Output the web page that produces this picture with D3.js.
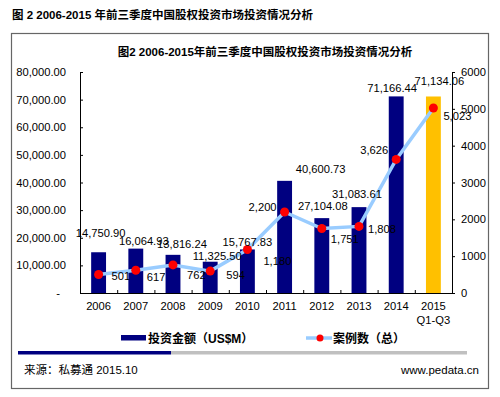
<!DOCTYPE html>
<html>
<head>
<meta charset="utf-8">
<script src="https://cdn.jsdelivr.net/npm/d3@7"></script>
<style>
  body { margin: 0; background: #fff; }
  text { font-family: "Liberation Sans", Arial, "Noto Sans CJK SC", sans-serif; }
  .cjk { font-family: "Liberation Sans", "Noto Sans CJK SC", sans-serif; }
</style>
</head>
<body>
<div id="chart"></div>
<script>
// データ
const years = ["2006", "2007", "2008", "2009", "2010", "2011", "2012", "2013", "2014", "2015"]
const amounts = [14750.90, 16064.93, 13816.24, 11325.50, 15767.83, 40600.73, 27104.08, 31083.61, 71166.44, 71134.06]
const cases = [501, 617, 762, 594, 1180, 2200, 1751, 1808, 3626, 5023]
const leftTicks = [0, 10000, 20000, 30000, 40000, 50000, 60000, 70000, 80000]
const rightTicks = [0, 1000, 2000, 3000, 4000, 5000, 6000]

// ラベルの微調整 (位置のみ)
const barLabelDx = [2, 8, 9, 7, 0, 36, 1, -2, -4, 6]
const barLabelDy = [-19, -8, -11, -6, -7, -12, -12, -13, -8, -15]
const caseLabelDx = [13, 11, 14, 16, 16, -8, 9, 9, -8, 10]
const caseLabelDy = [1, 7, 10, 4, 11, -5, 10, 3, -9, 8]

const width = 500, height = 397

const svg = d3.select('#chart')
  .append('svg')
  .attr('width', width)
  .attr('height', height)

// 外側タイトル
svg.append('text')
  .attr('class', 'cjk')
  .attr('x', 12).attr('y', 19)
  .style('font-size', '11.5px').style('font-weight', 'bold')
  .text('图 2 2006-2015 年前三季度中国股权投资市场投资情况分析')

// 枠
svg.append('rect')
  .attr('x', 11.5).attr('y', 33.5)
  .attr('width', 477).attr('height', 355)
  .attr('fill', 'none').attr('stroke', '#666').attr('stroke-width', 1.2)

// 内側タイトル
svg.append('text')
  .attr('class', 'cjk')
  .attr('x', 265).attr('y', 56)
  .attr('text-anchor', 'middle')
  .style('font-size', '11.5px').style('font-weight', 'bold')
  .text('图2 2006-2015年前三季度中国股权投资市场投资情况分析')

const plotLeft = 80, plotRight = 452, plotTop = 72, plotBottom = 293

const x = d3.scaleBand().domain(years).range([plotLeft, plotRight])
const yL = d3.scaleLinear().domain([0, 80000]).range([plotBottom, plotTop])
const yR = d3.scaleLinear().domain([0, 6000]).range([plotBottom, plotTop])
const barW = x.step() * 0.4
const cx = d => x(d) + x.bandwidth() / 2

// 棒
svg.selectAll('rect.bar')
  .data(amounts)
  .enter()
  .append('rect')
    .attr('class', 'bar')
    .attr('x', (d, i) => cx(years[i]) - barW / 2)
    .attr('y', d => yL(d))
    .attr('width', barW)
    .attr('height', d => plotBottom - yL(d))
    .attr('fill', (d, i) => i === years.length - 1 ? '#FFC000' : '#000080')

// 左軸
const axisL = svg.append('g')
  .attr('transform', `translate(${plotLeft},0)`)
  .call(d3.axisRight(yL).tickValues(leftTicks).tickSize(3).tickFormat(''))
axisL.select('.domain').attr('stroke', '#000')
svg.selectAll('text.ltick')
  .data(leftTicks)
  .enter()
  .append('text')
    .attr('class', 'ltick')
    .attr('x', d => d === 0 ? 60 : 66)
    .attr('y', d => yL(d) + 4)
    .attr('text-anchor', 'end')
    .style('font-size', '11.2px')
    .text(d => d === 0 ? '-' : d3.format(',.2f')(d))

// 右軸
const axisR = svg.append('g')
  .attr('transform', `translate(${plotRight},0)`)
  .call(d3.axisRight(yR).tickValues(rightTicks).tickSize(3).tickFormat(''))
axisR.select('.domain').attr('stroke', '#000')
svg.selectAll('text.rtick')
  .data(rightTicks)
  .enter()
  .append('text')
    .attr('class', 'rtick')
    .attr('x', plotRight + 9)
    .attr('y', d => yR(d) + 4)
    .style('font-size', '11.2px')
    .text(d => d)

// 横軸
svg.append('line')
  .attr('x1', plotLeft).attr('x2', plotRight)
  .attr('y1', plotBottom + 0.5).attr('y2', plotBottom + 0.5)
  .attr('stroke', '#000')
svg.selectAll('line.xtick')
  .data(years.slice(1))
  .enter()
  .append('line')
    .attr('class', 'xtick')
    .attr('x1', d => x(d) + 0.5).attr('x2', d => x(d) + 0.5)
    .attr('y1', plotBottom).attr('y2', plotBottom - 3)
    .attr('stroke', '#000')
svg.selectAll('text.xlab')
  .data(years)
  .enter()
  .append('text')
    .attr('class', 'xlab')
    .attr('x', d => cx(d))
    .attr('y', 310)
    .attr('text-anchor', 'middle')
    .style('font-size', '11.2px')
    .text(d => d)
svg.append('text')
  .attr('x', cx('2015')).attr('y', 324)
  .attr('text-anchor', 'middle')
  .style('font-size', '11.2px')
  .text('Q1-Q3')

// 折れ線
const line = d3.line()
  .x((d, i) => cx(years[i]))
  .y(d => yR(d))
svg.append('path')
  .datum(cases)
  .attr('d', line)
  .attr('fill', 'none')
  .attr('stroke', '#99CCFF')
  .attr('stroke-width', 3.5)
svg.selectAll('circle.pt')
  .data(cases)
  .enter()
  .append('circle')
    .attr('class', 'pt')
    .attr('cx', (d, i) => cx(years[i]))
    .attr('cy', d => yR(d))
    .attr('r', 4.5)
    .attr('fill', '#FF0000')

// 棒のラベル
svg.selectAll('text.blab')
  .data(amounts)
  .enter()
  .append('text')
    .attr('class', 'blab')
    .attr('x', (d, i) => cx(years[i]) + barLabelDx[i])
    .attr('y', (d, i) => yL(d) + barLabelDy[i] + 4)
    .attr('text-anchor', 'middle')
    .style('font-size', '11.2px')
    .text(d => d3.format(',.2f')(d))

// 件数のラベル
svg.selectAll('text.clab')
  .data(cases)
  .enter()
  .append('text')
    .attr('class', 'clab')
    .attr('x', (d, i) => cx(years[i]) + caseLabelDx[i])
    .attr('y', (d, i) => yR(d) + caseLabelDy[i] + 4)
    .attr('text-anchor', (d, i) => caseLabelDx[i] < 0 ? 'end' : 'start')
    .style('font-size', '11.2px')
    .text(d => d3.format(',')(d))

// 凡例
svg.append('rect')
  .attr('x', 121).attr('y', 335).attr('width', 25).attr('height', 5.5)
  .attr('fill', '#000080')
svg.append('text')
  .attr('class', 'cjk')
  .attr('x', 148).attr('y', 342.5)
  .style('font-size', '12px').style('font-weight', 'bold')
  .text('投资金额（US$M）')
svg.append('line')
  .attr('x1', 306).attr('x2', 332).attr('y1', 338).attr('y2', 338)
  .attr('stroke', '#99CCFF').attr('stroke-width', 3.5)
svg.append('circle')
  .attr('cx', 320).attr('cy', 338).attr('r', 3.5).attr('fill', '#FF0000')
svg.append('text')
  .attr('class', 'cjk')
  .attr('x', 333).attr('y', 342.5)
  .style('font-size', '12px').style('font-weight', 'bold')
  .text('案例数（总）')

// 区切り線
svg.append('rect')
  .attr('x', 18).attr('y', 351).attr('width', 153).attr('height', 3.5)
  .attr('fill', '#000080')
svg.append('rect')
  .attr('x', 171).attr('y', 351).attr('width', 296).attr('height', 3.5)
  .attr('fill', '#C0C0C0')

// 出典
svg.append('text')
  .attr('class', 'cjk')
  .attr('x', 24).attr('y', 374)
  .style('font-size', '11.5px')
  .text('来源：私募通 2015.10')
svg.append('text')
  .attr('x', 479).attr('y', 374)
  .attr('text-anchor', 'end')
  .style('font-size', '11.5px')
  .text('www.pedata.cn')
</script>
</body>
</html>
